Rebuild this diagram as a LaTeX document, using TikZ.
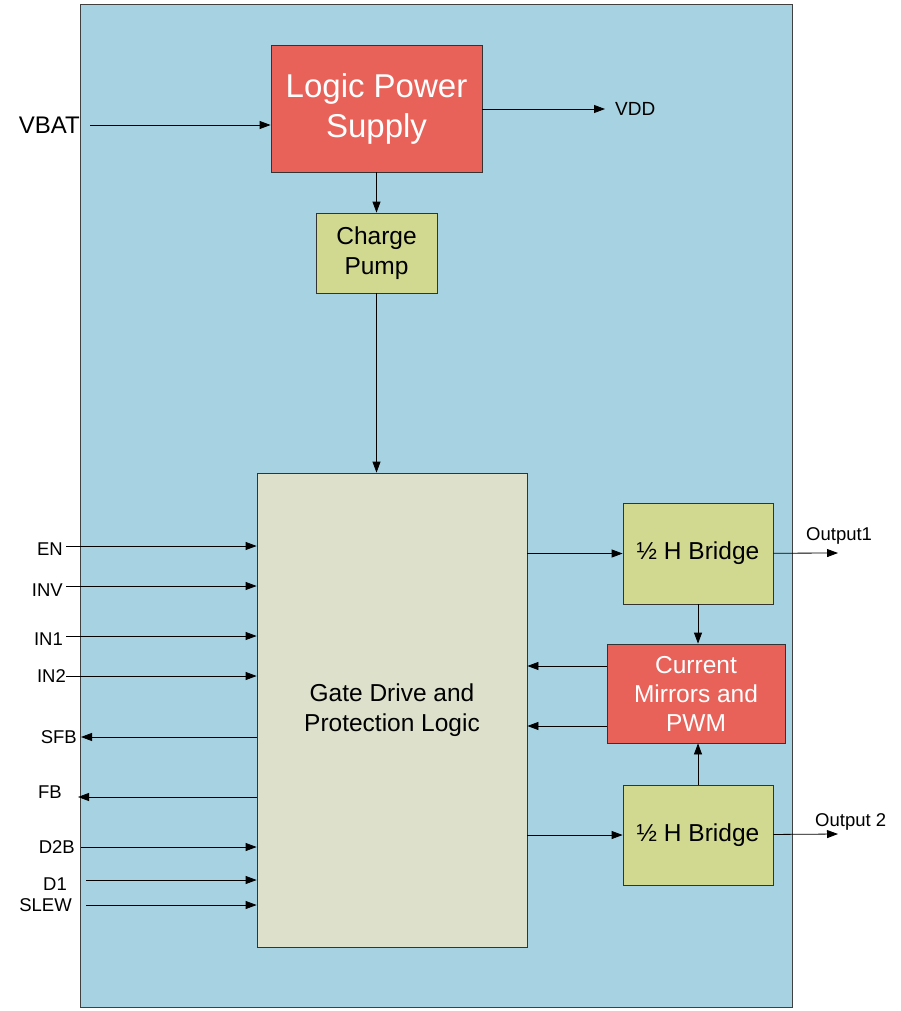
\documentclass[tikz,border=0pt]{standalone}
\usepackage{fontspec}
\setmainfont{Liberation Sans}
\usetikzlibrary{arrows.meta}
\definecolor{chipblue}{HTML}{A6D2E2}
\definecolor{blkred}{HTML}{E8625A}
\definecolor{blkgreen}{HTML}{D1D890}
\definecolor{gatefill}{HTML}{DDE1CC}
\newcommand{\fsz}[2]{\fontsize{#1}{#2}\selectfont}
\begin{document}
\begin{tikzpicture}[x=1pt,y=-1pt,
	blk/.style={draw=black!80,line width=0.8pt,align=center,inner sep=0pt},
	redblk/.style={blk,fill=blkred,text=white},
	grnblk/.style={blk,fill=blkgreen},
	sig/.style={-{Triangle[length=11pt,width=8pt]},line width=0.8pt},
	pin/.style={font=\fsz{18.5}{22},inner sep=0pt}]
	\useasboundingbox (0,0) rectangle (901,1011);
	\filldraw[fill=chipblue,draw=black!75,line width=0.8pt] (80,4) rectangle (792,1007);
	% blocks
	\node[redblk,minimum width=211pt,minimum height=127pt,font=\fsz{33}{40}] (LPS) at (376.5,108.5) {Logic Power\\Supply};
	\node[grnblk,minimum width=121pt,minimum height=80pt,font=\fsz{24.5}{30}] (CP) at (376.5,253) {Charge\\Pump};
	\node[blk,fill=gatefill,minimum width=270pt,minimum height=474pt,font=\fsz{24.5}{30}] (GD) at (392,710) {Gate Drive and\\Protection Logic};
	\node[grnblk,minimum width=150pt,minimum height=101pt,font=\fsz{24.5}{30}] (HB1) at (698,553.5) {½ H Bridge};
	\node[redblk,minimum width=178pt,minimum height=99pt,font=\fsz{24.5}{29}] (CM) at (696,693.5) {Current\\Mirrors and\\PWM};
	\node[grnblk,minimum width=150pt,minimum height=100pt,font=\fsz{24.5}{30}] (HB2) at (698,835) {½ H Bridge};
	% top
	\coordinate (VBAT) at (90,125) node at (VBAT) [anchor=east,inner sep=0pt,xshift=-10pt,font=\fsz{24}{28}] {VBAT};
	\coordinate (VDD) at (605,109) node at (VDD) [anchor=west,inner sep=0pt,xshift=10pt,font=\fsz{19}{22}] {VDD};
	\draw[sig] (VBAT) -- (LPS.west |- VBAT);
	\draw[sig] (LPS.east |- VDD) -- (VDD);
	\draw[sig] (LPS) -- (CP);
	\draw[sig] (CP) -- (GD.north -| CP);
	% left pins
	\coordinate (EN) at (66,546)    node at (EN) [pin,anchor=east,xshift=-3pt,yshift=-3pt] {EN};
	\coordinate (INV) at (66,586)   node at (INV) [pin,anchor=east,xshift=-3pt,yshift=-4pt] {INV};
	\coordinate (IN1) at (66,636)   node at (IN1) [pin,anchor=east,xshift=-3pt,yshift=-3pt] {IN1};
	\coordinate (IN2) at (66,676)   node at (IN2) [pin,anchor=east,xshift=0pt] {IN2};
	\coordinate (SFB) at (81,737)   node at (SFB) [pin,anchor=east,xshift=-4pt] {SFB};
	\coordinate (FB) at (78,797)    node at (FB) [pin,anchor=east,xshift=-16pt,yshift=5pt] {FB};
	\coordinate (D2B) at (81,847)   node at (D2B) [pin,anchor=east,xshift=-6pt] {D2B};
	\coordinate (D1) at (86,880)    node at (D1) [pin,anchor=east,xshift=-19pt,yshift=-4pt] {D1};
	\coordinate (SLEW) at (86,905)  node at (SLEW) [pin,anchor=east,xshift=-14pt] {SLEW};
	\draw[sig] (EN) -- (GD.west |- EN);
	\draw[sig] (INV) -- (GD.west |- INV);
	\draw[sig] (IN1) -- (GD.west |- IN1);
	\draw[sig] (IN2) -- (GD.west |- IN2);
	\draw[sig] (GD.west |- SFB) -- (SFB);
	\draw[sig] (GD.west |- FB) -- (FB);
	\draw[sig] (D2B) -- (GD.west |- D2B);
	\draw[sig] (D1) -- (GD.west |- D1);
	\draw[sig] (SLEW) -- (GD.west |- SLEW);
	% right side
	\coordinate (O1) at (838,553) node at (O1) [pin,anchor=south west,xshift=-32pt,yshift=8pt] {Output1};
	\coordinate (O2) at (838,834) node at (O2) [pin,anchor=south west,xshift=-23pt,yshift=3pt] {Output 2};
	\coordinate (CMa) at (607,666);
	\coordinate (CMb) at (607,726);
	\draw[sig] (GD.east |- HB1) -- (HB1);
	\draw[sig] (GD.east |- HB2) -- (HB2);
	\draw[sig] (HB1) -- (O1);
	\draw[sig] (HB2) -- (O2);
	\draw[sig] (HB1.south) -- (CM.north -| HB1.south);
	\draw[sig] (HB2.north) -- (CM.south -| HB2.north);
	\draw[sig] (CMa) -- (GD.east |- CMa);
	\draw[sig] (CMb) -- (GD.east |- CMb);
\end{tikzpicture}
\end{document}
